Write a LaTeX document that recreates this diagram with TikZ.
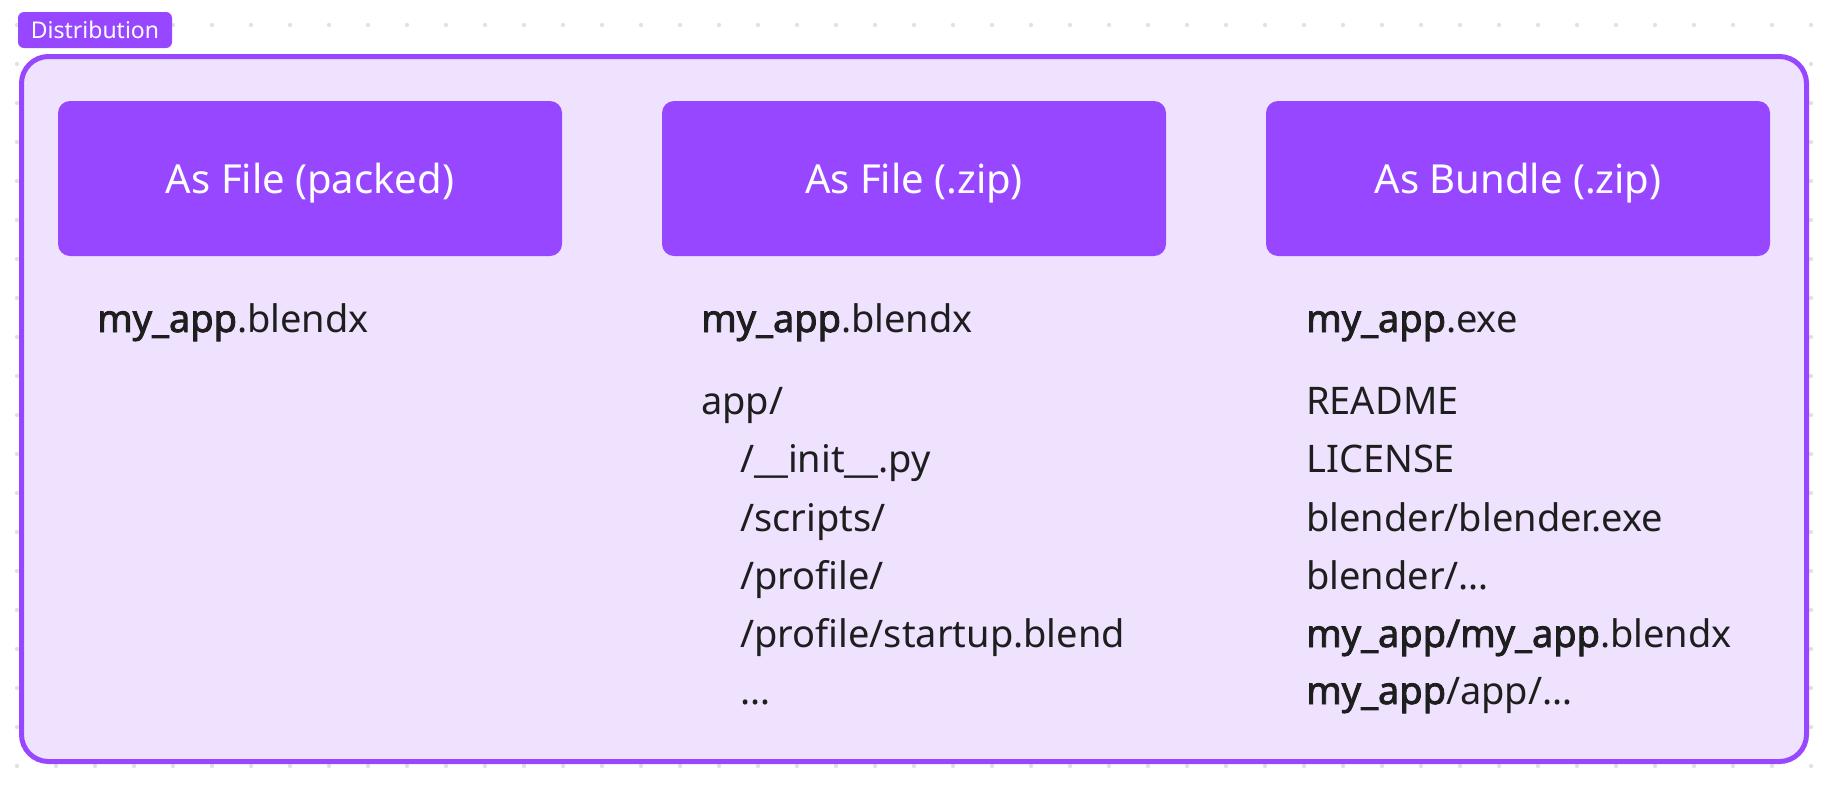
\documentclass[tikz,border=0pt]{standalone}
\usepackage{fontspec}
\setmainfont{Noto Sans}[AutoFakeBold=2.2]
\definecolor{fpurple}{HTML}{9747FF}
\definecolor{flav}{HTML}{EFE2FF}
\definecolor{fdot}{HTML}{E2E2E2}
\definecolor{ftext}{HTML}{1E1E1E}
\tikzset{
  headbox/.style={fill=fpurple, draw=none, rounded corners=12pt},
  headtext/.style={text=white, inner sep=0pt, anchor=base, font=\fontsize{40}{48}\selectfont},
  bodytext/.style={text=ftext, inner sep=0pt, anchor=base west, font=\fontsize{38}{46}\selectfont},
  tagbox/.style={fill=fpurple, draw=none, rounded corners=6pt},
}
\begin{document}
\begin{tikzpicture}[x=1pt,y=-1pt]
\useasboundingbox (0,0) rectangle (1838,785);
% dot grid
\foreach \i in {0,...,46}{
  \foreach \j in {0,...,19}{
    \fill[fdot] ({17+39*\i},{25+39*\j}) circle (2.2pt);
  }
}
% main frame
\draw[line width=5pt, draw=fpurple, fill=flav, rounded corners=27pt] (21.5,56.5) rectangle (1806.5,761.5);
% tag
\fill[tagbox] (18,12) rectangle (172,48);
\node[text=white, inner sep=0pt, anchor=base, font=\fontsize{23}{28}\selectfont] (tag) at (95,38) {Distribution};
% header boxes
\fill[headbox] (58,101) rectangle (562,256);
\fill[headbox] (662,101) rectangle (1166,256);
\fill[headbox] (1266,101) rectangle (1770,256);
\node[headtext] (h1) at (310,193) {As File (packed)};
\node[headtext] (h2) at (914,193) {As File (.zip)};
\node[headtext] (h3) at (1518,193) {As Bundle (.zip)};
% column 1
\node[bodytext] (a1) at (97,332) {\textbf{my\_app}.blendx};
% column 2
\node[bodytext] (b1) at (701,332) {\textbf{my\_app}.blendx};
\node[bodytext] (b2) at (701,414) {app/};
\node[bodytext] (b3) at (740,472) {/\_\_init\_\_.py};
\node[bodytext] (b4) at (740,531) {/scripts/};
\node[bodytext] (b5) at (740,589) {/profile/};
\node[bodytext] (b6) at (740,647) {/profile/startup.blend};
\node[bodytext] (b7) at (740,704) {…};
% column 3
\node[bodytext] (c1) at (1306,332) {\textbf{my\_app}.exe};
\node[bodytext] (c2) at (1306,414) {README};
\node[bodytext] (c3) at (1306,472) {LICENSE};
\node[bodytext] (c4) at (1306,531) {blender/blender.exe};
\node[bodytext] (c5) at (1306,589) {blender/…};
\node[bodytext] (c6) at (1306,647) {\textbf{my\_app/my\_app}.blendx};
\node[bodytext] (c7) at (1306,704) {\textbf{my\_app}/app/…};
\end{tikzpicture}
\end{document}
